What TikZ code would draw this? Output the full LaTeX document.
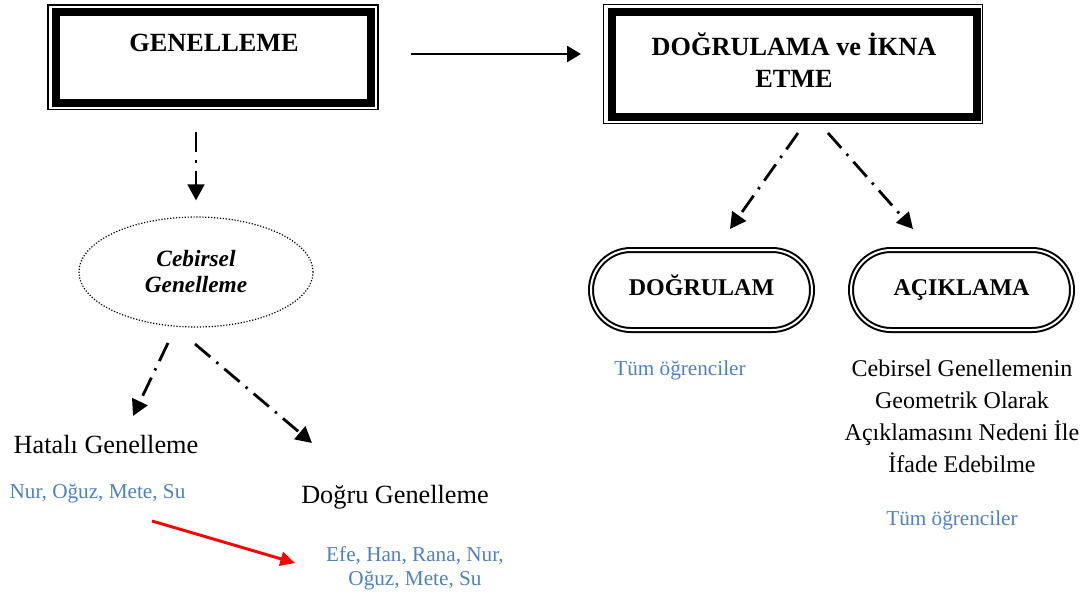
\documentclass[tikz,border=0pt]{standalone}
\usepackage{fontspec}
\setmainfont{Liberation Serif}
\usetikzlibrary{arrows.meta,shapes.geometric,shapes.misc}
\definecolor{names}{RGB}{79,129,189}
\begin{document}
\begin{tikzpicture}[x=0.75pt,y=-0.75pt,
  framebox/.style={draw,line width=6pt,inner sep=0pt,outer sep=0pt},
  thinframe/.style={line width=0.9pt},
  title/.style={font=\fontsize{19.7}{24}\selectfont\bfseries,inner sep=0pt,align=center},
  pill/.style={rounded rectangle,draw,line width=1.5pt,double,double distance=1.5pt,
    minimum width=165.75pt,minimum height=60pt,inner sep=0pt,
    text height=11.9pt,text depth=3.5pt,
    font=\fontsize{18}{20}\selectfont\bfseries},
  oval/.style={ellipse,draw,line width=0.9pt,dash pattern=on 0.9pt off 1.3pt,
    minimum width=175.5pt,minimum height=82.5pt,inner sep=0pt,align=center,
    font=\fontsize{17.5}{19.5}\selectfont\bfseries\itshape},
  plain/.style={font=\fontsize{19.7}{22}\selectfont,inner sep=0pt},
  desc/.style={font=\fontsize{18}{23.8}\selectfont,inner sep=0pt,align=center},
  who/.style={font=\fontsize{15.9}{17.5}\selectfont,text=names,inner sep=0pt,align=center},
  dda/.style={line width=2.1pt,dash pattern=on 15pt off 6pt on 1.8pt off 6pt,
    -{Triangle[length=12pt,width=12.5pt]}},
  solidarrow/.style={line width=2pt,-{Triangle[length=10.5pt,width=12pt]}},
  redarrow/.style={line width=2.2pt,red,-{Triangle[length=11pt,width=10.5pt]}}]
\useasboundingbox (0,0) rectangle (1086,597);

% framed headings
\node[framebox,minimum width=235.9pt,minimum height=68.25pt] (genbox) at (213.25,57.5) {};
\draw[thinframe] ([shift={(-8,-7)}]genbox.north west) rectangle ([shift={(7.5,6.5)}]genbox.south east);
\node[title,anchor=base] (gen) at (214,51) {GENELLEME};

\node[framebox,minimum width=274.1pt,minimum height=79.1pt] (dogbox) at (794.25,64.75) {};
\draw[thinframe] ([shift={(-8,-7.5)}]dogbox.north west) rectangle ([shift={(5.5,6)}]dogbox.south east);
% base of a multi-line node is its last line
\node[title,anchor=base] (dog) at (794,87) {DOĞRULAMA ve İKNA\\ETME};

% left branch
\node[oval] (ceb) at (196,272) {Cebirsel\\Genelleme};
\node[plain,anchor=base] (hatali) at (106,453) {Hatalı Genelleme};
\node[who,anchor=base] (hnames) at (97.5,498) {Nur, Oğuz, Mete, Su};
\node[plain,anchor=base] (dogru) at (395,503) {Doğru Genelleme};
\node[who,anchor=base] (dnames) at (415,585) {Efe, Han, Rana, Nur,\\Oğuz, Mete, Su};

% right branch
\node[pill] (dgr) at (701.5,290) {DOĞRULAM};
\node[pill] (acik) at (961.5,290) {AÇIKLAMA};
\node[who,anchor=base] (dall) at (680,375) {Tüm öğrenciler};
\node[desc,anchor=base] (aexp) at (962,472) {Cebirsel Genellemenin\\Geometrik Olarak\\Açıklamasını Nedeni İle\\İfade Edebilme};
\node[who,anchor=base] (aall) at (952,525) {Tüm öğrenciler};

% connector ends
\coordinate (hs) at (411,54);
\coordinate (he) at (581,54);
\coordinate (c1s) at (168,343);
\coordinate (c1e) at (133,416);
\coordinate (c2s) at (195,344);
\coordinate (c2e) at (312,443);
\coordinate (d1s) at (798,133);
\coordinate (d1e) at (730,229);
\coordinate (d2s) at (828,133);
\coordinate (d2e) at (913,229);
\coordinate (rs) at (152,521);
\coordinate (re) at (295,563);

% connectors
\draw[solidarrow] (hs) -- (he);
\draw[dda,shorten <=22pt,shorten >=12pt] (genbox.south -| ceb.north) -- (ceb.north);
\draw[dda] (c1s) -- (c1e);
\draw[dda] (c2s) -- (c2e);
\draw[dda] (d1s) -- (d1e);
\draw[dda] (d2s) -- (d2e);
\draw[redarrow] (rs) -- (re);
\end{tikzpicture}
\end{document}
